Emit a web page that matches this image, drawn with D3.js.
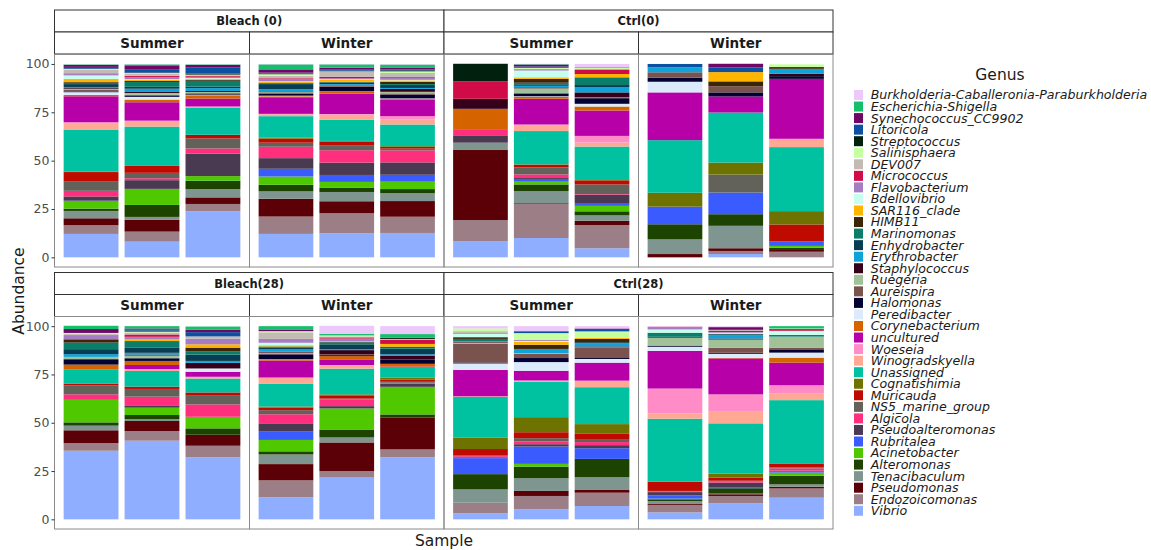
<!DOCTYPE html>
<html>
<head>
<meta charset="utf-8">
<script src="https://cdn.jsdelivr.net/npm/d3@7"></script>
<style>
  body { margin: 0; background: #fff; }
  text { font-family: "DejaVu Sans", sans-serif; }
</style>
</head>
<body>
<svg id="chart" width="1151" height="550"></svg>
<script>
// Genera in legend order (top of each stack first)
const genera = [
  "Burkholderia-Caballeronia-Paraburkholderia", "Escherichia-Shigella", "Synechococcus_CC9902",
  "Litoricola", "Streptococcus", "Salinisphaera", "DEV007", "Micrococcus", "Flavobacterium",
  "Bdellovibrio", "SAR116_clade", "HIMB11", "Marinomonas", "Enhydrobacter", "Erythrobacter",
  "Staphylococcus", "Ruegeria", "Aureispira", "Halomonas", "Peredibacter", "Corynebacterium",
  "uncultured", "Woeseia", "Winogradskyella", "Unassigned", "Cognatishimia", "Muricauda",
  "NS5_marine_group", "Algicola", "Pseudoalteromonas", "Rubritalea", "Acinetobacter",
  "Alteromonas", "Tenacibaculum", "Pseudomonas", "Endozoicomonas", "Vibrio"
];
const palette = [
  "#EDC8FA", "#16BF6B", "#6F0766", "#0C50A2", "#01200E", "#C5FFA0", "#C3BBB3", "#D00B47",
  "#A67DC3", "#C6FFEE", "#FFB500", "#3C2506", "#0A7E6B", "#083E53", "#0EA4D9", "#36001B",
  "#A1C299", "#7B534E", "#040233", "#DBEBFC", "#D56300", "#B800A8", "#FF8CC6", "#FFA994",
  "#00C1A0", "#6E7300", "#BE0A00", "#62625A", "#FF2F7E", "#4A3A51", "#3A5CFF", "#50C800",
  "#1C4400", "#7F958F", "#5B0007", "#9C7F86", "#8FAEFF"
];
const conditions = ["Bleach (0)", "Ctrl(0)", "Bleach(28)", "Ctrl(28)"];
const seasons = ["Summer", "Winter"];
const replicates = ["1", "2", "3"];
const yTicks = [0, 25, 50, 75, 100];

// Relative abundance (%) per bar, listed from the bottom of the stack (Vibrio)
// up to the top (Burkholderia-Caballeronia-Paraburkholderia)
const bleach0Summer = [
  [12.1,4.5,3.6,3.8,1.2,3.6,0.5,2.2,2.9,5.0,4.7,0.3,21.7,3.3,0.5,13.4,0.7,1.4,0.4,1.0,0.3,0.4,0.6,1.5,0.6,0.4,1.7,1.8,0.7,0.3,2.0,0.3,0.2,0.9,1.0,0.3,0.2],
  [8.1,5.2,6.2,1.4,6.2,8.3,0,4.5,1.0,2.8,3.6,0,20.3,2.9,0.2,9.5,1.4,1.4,0.5,0.5,1.0,0.5,1.7,1.0,2.5,0.5,0.6,0.3,1.2,0.6,1.0,0.4,0.3,1.7,2.0,0.5,0.2],
  [23.8,3.8,3.4,4.3,4.3,2.4,0,11.7,2.6,5.2,1.9,0,14.1,0.3,0.2,4.1,1.4,0.3,0.5,0.6,0.6,0.5,1.5,0.8,3.0,0.5,0.6,0.3,0.5,0.5,0.5,0.3,0.5,3.1,1.4,0.3,0.2]
];
const bleach0Winter = [
  [12.1,9.0,9.2,3.8,3.4,4.3,4.0,5.5,5.9,2.1,2.1,0.6,11.0,1.0,0.2,8.6,0.5,0.3,1.0,0.4,0.4,0.4,1.2,2.6,0.4,0.3,0.4,0.3,1.2,0.4,1.3,0.8,0.3,0.5,1.7,2.6,0.2],
  [12.4,10.4,6.2,4.8,2.1,3.1,3.6,6.4,6.4,2.6,1.9,0.3,11.0,2.6,0.3,10.5,1.0,0.2,2.5,0.3,0.3,0.3,0.4,0.6,0.3,0.3,1.0,0.3,0.5,0.8,2.5,0.3,0.3,0.8,0.8,1.7,0.2],
  [12.6,8.4,8.1,4.1,2.1,3.8,3.6,6.4,6.2,0.9,0.9,0.4,11.2,2.6,1.7,8.6,0.4,0.2,2.0,0.6,0.8,1.5,0.5,1.5,0.5,1.2,0.7,0.3,1.0,0.4,2.2,0.8,0.5,0.5,1.0,1.5,0.3]
];
const ctrl0Summer = [
  [8.4,10.9,36.2,3.8,0,0,0,3.8,2.8,0,0,0,0,0,0,0,10.9,0,0,0,0,5.2,0,0,0,0,0,0,0,9.0,0,0,9.1,0,0,0,0],
  [10.0,17.8,0.3,6.2,3.4,1.4,1.4,0.5,1.9,3.6,1.4,0.2,17.2,3.1,0.3,13.3,1.0,0.3,1.3,0.4,2.4,0.5,0.8,0.8,0.8,2.0,0.8,3.5,0.3,0.3,0.3,0.5,0.3,0.4,1.0,0.2,0.2],
  [4.7,12.0,2.2,2.8,2.1,2.8,1.5,4.3,0.3,5.0,2.1,0.2,17.3,2.1,3.4,13.1,2.1,1.4,2.9,0.2,0.2,2.6,2.6,1.2,3.8,0.2,1.7,0,0,2.4,0,1.0,0,0.2,0,0,1.6]
];
const ctrl0Winter = [
  [0,0,1.7,7.6,7.8,0,9.1,0,0,0,0,7.2,27.2,0,0,24.7,0,5.5,2.1,2.8,0,0,2.6,0,0,0,0,0,0,0,0,0,0,1.7,0,0,0],
  [1.7,1.6,1.4,11.6,6.0,0,11.2,0,0,9.3,0,6.2,25.9,0,0,8.3,0,0,2.1,3.1,0,0,0,0,0,2.6,4.8,0,0,0,0,0,0,2.4,1.9,0,0],
  [0,2.9,0.9,0,1.2,0.9,2.2,0.3,0,0,8.6,6.9,33.1,4.3,0,31.0,0,0,1.4,0,0,1.2,2.6,0,0,0.9,0,0,0,0,0,1.4,0,0,0,0,0]
];
const bleach28Summer = [
  [35.5,4.0,6.6,2.4,1.7,11.6,0,0.3,2.6,4.7,0.9,0,7.4,0,0,0,2.4,0,2.8,0,1.2,0,1.4,2.6,3.4,1.7,0,0,2.2,0,0.5,0.6,0,0,2.0,1.7,0],
  [40.7,5.0,5.2,1.0,2.1,3.8,0,0.9,4.8,4.0,1.2,0,8.1,1.0,0,2.1,2.1,0,1.4,0,1.4,0.5,0.9,2.8,3.3,0,1.0,0,1.2,1.2,1.0,0.5,0.5,0.5,0.6,1.2,0],
  [32.1,6.0,5.7,0,3.3,6.0,0,0,6.4,4.5,1.7,0,7.2,0.9,0,2.6,0,1.7,0,0,0,2.9,1.0,3.3,1.7,1.9,1.7,0,2.9,0,1.2,0,0,2.2,1.2,1.7,0]
];
const bleach28Winter = [
  [11.4,8.8,8.4,5.0,1.6,5.9,4.3,4.3,4.7,2.1,1.4,0.5,11.7,3.3,0,8.8,0.3,0.3,2.6,0.5,0.4,0.5,1.2,1.0,0.5,0,0.6,1.3,2.0,0,3.4,0.6,0,0,0.9,1.7,0],
  [21.6,3.4,14.8,2.6,4.1,10.9,0,1.2,3.4,0.5,1.7,0.5,13.3,1.9,0,2.9,1.7,0,0.5,0.4,0,2.2,0.4,2.6,1.0,0.3,0.3,0,1.4,0.6,0.5,0.5,0,0,0,0.9,4.1],
  [32.1,4.1,16.4,0,1.7,14.3,0,1.7,0.4,0.5,1.2,0.9,5.5,0,0,0.3,1.4,0,2.2,0,0,2.1,0.6,2.9,0.5,0.6,1.4,0,0,2.1,0.5,0,0.6,0,0,1.9,4.1]
];
const ctrl28Summer = [
  [3.1,5.5,0,6.9,7.9,0,8.3,0,1.0,0.3,3.4,6.0,21.0,0.3,0,13.6,0,3.4,0.5,9.8,0.5,0.3,0.4,0,1.2,0.9,0,1.7,0.4,0,1.0,1.4,0,0,0,0,1.2],
  [5.2,6.9,2.6,6.6,6.0,1.4,9.0,1.2,1.4,1.7,3.1,7.8,18.4,0.3,0.3,5.0,0,4.5,2.1,2.1,0.4,0,2.2,0,0,2.2,1.4,0.5,0.5,0,0,3.6,0,1.0,0,0,2.6],
  [6.9,6.9,1.4,6.6,9.5,0,5.5,1.6,1.6,1.2,3.3,4.8,19.1,3.4,0,9.3,0,1.9,0.5,5.2,0.3,0.5,1.7,0.5,0,1.7,0.5,0,0,0,0,3.4,0,1.2,0.3,0,1.2]
];
const ctrl28Winter = [
  [3.6,3.8,0.5,1.6,0.9,0.3,1.7,1.7,0.3,0.3,4.8,0,32.6,2.8,12.8,19.5,0,2.1,0.4,0.3,4.0,0,0,0.5,2.1,0,0,1.7,1.2,0.2,0,0,0,0,0,0,0.3],
  [8.3,3.8,0.9,0.3,2.8,0,0.3,2.6,0.5,0.5,1.6,2.1,26.0,6.0,9.0,18.6,0.3,2.1,0.5,2.6,4.3,0.5,1.7,0.5,0.3,0,0,0.5,0.3,0.6,0.5,0,0.3,0,1.2,0,0.5],
  [11.2,4.8,0.9,1.2,4.5,1.6,0.5,0.5,1.2,0.5,1.9,0.3,32.6,3.6,4.1,11.7,2.6,2.6,1.7,0.9,5.7,0,0,0,0.9,0,0,2.1,0,0.9,0,0.3,0,0,0,1.2,0]
];

const abundance = {
  "Bleach (0)": { Summer: bleach0Summer, Winter: bleach0Winter },
  "Ctrl(0)":    { Summer: ctrl0Summer,   Winter: ctrl0Winter },
  "Bleach(28)": { Summer: bleach28Summer, Winter: bleach28Winter },
  "Ctrl(28)":   { Summer: ctrl28Summer,  Winter: ctrl28Winter }
};

// ---- layout ----
const svg = d3.select("#chart");
svg.append("rect").attr("width", 1151).attr("height", 550).attr("fill", "#fff");

const colEdges = [54.5, 249.5, 444, 638.5, 833];
const rows = [
  { stripTop: 10,    panelTop: 54.3,  panelBottom: 267 },
  { stripTop: 272.5, panelTop: 316.5, panelBottom: 529 }
];
const stripH = 22;

const stackOrder = genera.slice().reverse();
const color = d3.scaleOrdinal().domain(genera).range(palette);
const stack = d3.stack().keys(stackOrder);

conditions.forEach((cond, ci) => {
  const row = rows[Math.floor(ci / 2)];
  const pair = ci % 2;
  const y = d3.scaleLinear().domain([-5, 105]).range([row.panelBottom, row.panelTop]);

  // outer strip spanning both seasons
  const ox0 = colEdges[pair * 2], ox1 = colEdges[pair * 2 + 2];
  svg.append("rect")
    .attr("x", ox0).attr("y", row.stripTop).attr("width", ox1 - ox0).attr("height", stripH)
    .attr("fill", "#fff").attr("stroke", "#333").attr("stroke-width", 1);
  svg.append("text")
    .attr("x", (ox0 + ox1) / 2).attr("y", row.stripTop + stripH / 2 + 4.2)
    .attr("text-anchor", "middle").attr("font-size", 11.5).attr("font-weight", "bold")
    .attr("fill", "#1a1a1a").text(cond);

  seasons.forEach((season, si) => {
    const x0 = colEdges[pair * 2 + si], x1 = colEdges[pair * 2 + si + 1];
    const x = d3.scaleBand().domain(replicates).range([x0, x1])
      .paddingInner(0.1).paddingOuter(0.15);

    // inner season strip
    svg.append("rect")
      .attr("x", x0).attr("y", row.stripTop + stripH).attr("width", x1 - x0).attr("height", stripH)
      .attr("fill", "#fff").attr("stroke", "#333").attr("stroke-width", 1);
    svg.append("text")
      .attr("x", (x0 + x1) / 2).attr("y", row.stripTop + stripH * 1.5 + 4.8)
      .attr("text-anchor", "middle").attr("font-size", 13.5).attr("font-weight", "bold")
      .attr("fill", "#1a1a1a").text(season);

    const records = abundance[cond][season].map((vals, ri) => {
      const rec = { rep: replicates[ri] };
      stackOrder.forEach((g, gi) => { rec[g] = vals[gi]; });
      return rec;
    });
    const layers = stack(records);

    const g = svg.append("g");
    g.selectAll("g.layer").data(layers).join("g")
      .attr("class", "layer")
      .attr("fill", d => color(d.key))
      .selectAll("rect").data(d => d).join("rect")
      .attr("x", d => x(d.data.rep))
      .attr("width", x.bandwidth())
      .attr("y", d => y(d[1]))
      .attr("height", d => Math.max(0, y(d[0]) - y(d[1])));

    // panel border
    svg.append("rect")
      .attr("x", x0).attr("y", row.panelTop).attr("width", x1 - x0)
      .attr("height", row.panelBottom - row.panelTop)
      .attr("fill", "none").attr("stroke", "#8a8a8a").attr("stroke-width", 1);

    if (pair === 0 && si === 0) {
      const axis = d3.axisLeft(y).tickValues(yTicks).tickSize(3).tickPadding(2);
      const ag = svg.append("g").attr("transform", `translate(${x0},0)`).call(axis);
      ag.select(".domain").remove();
      ag.selectAll(".tick line").attr("stroke", "#333");
      ag.selectAll(".tick text").attr("font-size", 12.5).attr("fill", "#4d4d4d")
        .attr("font-family", "DejaVu Sans, sans-serif");
    }
  });
});

// axis titles
svg.append("text")
  .attr("transform", "translate(24,291) rotate(-90)")
  .attr("text-anchor", "middle").attr("font-size", 15.5).attr("fill", "#1a1a1a")
  .text("Abundance");
svg.append("text")
  .attr("x", 444).attr("y", 546)
  .attr("text-anchor", "middle").attr("font-size", 15.5).attr("fill", "#1a1a1a")
  .text("Sample");

// legend
const legend = svg.append("g");
legend.append("text")
  .attr("x", 1000).attr("y", 80).attr("text-anchor", "middle")
  .attr("font-size", 15.5).attr("fill", "#1a1a1a").text("Genus");
const item = legend.selectAll("g.item").data(genera).join("g")
  .attr("class", "item")
  .attr("transform", (d, i) => `translate(854,${95 + i * 11.55})`);
item.append("rect")
  .attr("x", 0).attr("y", -5).attr("width", 9).attr("height", 10)
  .attr("fill", d => color(d));
item.append("text")
  .attr("x", 16.7).attr("y", 4.4)
  .attr("font-size", 12.6).attr("font-style", "italic").attr("fill", "#1a1a1a")
  .text(d => d);
</script>
</body>
</html>
